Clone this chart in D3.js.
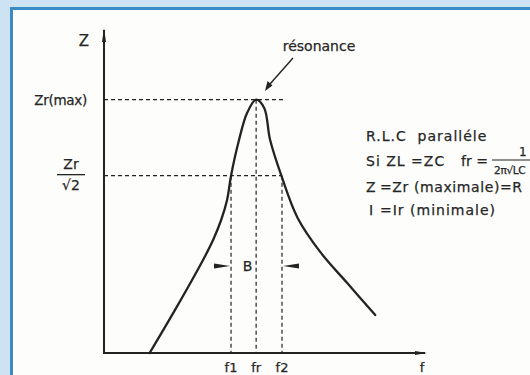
<!DOCTYPE html>
<html>
<head>
<meta charset="utf-8">
<script src="https://cdn.jsdelivr.net/npm/d3@7"></script>
<style>
	body {margin:0; background:#cde2f2;}
	svg {display:block;}
	text {font-family:"DejaVu Sans",sans-serif; fill:#262626; stroke:#262626; stroke-width:0.25;}
</style>
</head>
<body>
<svg id="chart"></svg>
<script>
/*************** data *****************/
// frequency relative to fr, impedance relative to Zr(max)
var curveF = [0.30, 0.467, 0.651, 0.717, 0.770, 0.809, 0.835, 0.888, 0.941, 1.0, 1.053, 1.092, 1.166, 1.273, 1.421, 1.599, 1.783];
var curveZ = [0.0, 0.17, 0.367, 0.446, 0.525, 0.604, 0.70, 0.842, 0.948, 1.0, 0.967, 0.841, 0.70, 0.533, 0.399, 0.276, 0.15];
var freqTicks = ["f1", "fr", "f2"];
var freqValues = [0.835, 1.0, 1.17];
var zLevels = ["Zr(max)", "Zr/√2"];
var zValues = [1.0, 0.70];
var notes = ["R.L.C  paralléle", "Si ZL =ZC", "=Zr (maximale)=R", "=Ir (minimale)"];

/*************** settings *****************/
var width = 530,
	height = 375,
	ink = "#232323";

var svg = d3.select("#chart")
	.attr("width", width)
	.attr("height", height);

// white panel with blue border (left and top only visible)
svg.append("rect")
	.attr("x", 11).attr("y", 8)
	.attr("width", width).attr("height", height)
	.attr("fill", "#fdfdfb");
svg.append("path")
	.attr("d", "M11.5," + height + "V8.5H" + width)
	.attr("fill", "none")
	.attr("stroke", "#3a8bc6")
	.attr("stroke-width", 3);

/*********** scales ****************************************/
var x = d3.scaleLinear().domain([0, 2.11]).range([104, 425]);
var y = d3.scaleLinear().domain([0, 1.275]).range([353, 30]);

/*********** dashed guides *********************************/
var guides = svg.append("g")
	.attr("stroke", ink)
	.attr("stroke-width", 1.2)
	.attr("stroke-dasharray", "4,3");

// horizontal guides
guides.append("line")
	.attr("x1", x(0)).attr("x2", x(1.19))
	.attr("y1", y(zValues[0])).attr("y2", y(zValues[0]));
guides.append("line")
	.attr("x1", x(0)).attr("x2", x(freqValues[2]))
	.attr("y1", y(zValues[1])).attr("y2", y(zValues[1]));

// vertical guides
freqValues.forEach(function(f, i) {
	guides.append("line")
		.attr("x1", x(f)).attr("x2", x(f))
		.attr("y1", i == 1 ? y(zValues[0]) : y(zValues[1]))
		.attr("y2", y(0));
});

/*********** axes ******************************************/
var axes = svg.append("g").attr("stroke", ink).attr("stroke-width", 2);
axes.append("line")
	.attr("x1", x(0)).attr("x2", x(0))
	.attr("y1", y(1.275)).attr("y2", y(0) + 1);
axes.append("line")
	.attr("x1", x(0) - 1).attr("x2", x(2.11))
	.attr("y1", y(0)).attr("y2", y(0));

// arrow tips
svg.append("path")
	.attr("d", "M" + x(0) + "," + (y(1.275) - 2) + "l-2,14h4z")
	.attr("fill", ink);
svg.append("path")
	.attr("d", "M" + (x(2.11) + 2) + "," + y(0) + "l-12,-2v4z")
	.attr("fill", ink);

/*********** resonance curve *******************************/
var line = d3.line()
	.x(function(d) { return x(d.f); })
	.y(function(d) { return y(d.z); })
	.curve(d3.curveCatmullRom.alpha(0.5));

var points = curveF.map(function(f, i) { return {f: f, z: curveZ[i]}; });

svg.append("path")
	.datum(points)
	.attr("d", line)
	.attr("fill", "none")
	.attr("stroke", ink)
	.attr("stroke-width", 2.3)
	.attr("stroke-linecap", "round");

/*********** bandwidth markers *****************************/
var yB = 266;
svg.append("path")
	.attr("d", "M" + (x(freqValues[0]) - 17) + "," + (yB - 2.5) + "v5L" + (x(freqValues[0]) - 1) + "," + yB + "z")
	.attr("fill", ink);
svg.append("path")
	.attr("d", "M" + (x(freqValues[2]) + 17) + "," + (yB - 2.5) + "v5L" + (x(freqValues[2]) + 1) + "," + yB + "z")
	.attr("fill", ink);
svg.append("text")
	.attr("x", (x(freqValues[0]) + x(freqValues[1])) / 2 + 4)
	.attr("y", yB + 5)
	.attr("text-anchor", "middle")
	.attr("font-size", 14)
	.text("B");

/*********** labels ****************************************/
// frequency labels under the axis
svg.selectAll("text.ftick")
	.data(freqTicks)
	.enter().append("text")
	.attr("class", "ftick")
	.attr("x", function(d, i) { return x(freqValues[i]); })
	.attr("y", 372)
	.attr("text-anchor", "middle")
	.attr("font-size", 13)
	.text(function(d) { return d; });
svg.append("text")
	.attr("x", x(2.11) - 3).attr("y", 372)
	.attr("text-anchor", "middle")
	.attr("font-size", 13)
	.text("f");

// Z axis labels
svg.append("text")
	.attr("x", 84).attr("y", 46)
	.attr("text-anchor", "middle")
	.attr("font-size", 15)
	.text("Z");
svg.append("text")
	.attr("x", 87).attr("y", y(zValues[0]) + 5)
	.attr("text-anchor", "end")
	.attr("font-size", 13.5)
	.attr("letter-spacing", -0.3)
	.text(zLevels[0]);

// Zr over √2
var frac = svg.append("g").attr("transform", "translate(71," + y(zValues[1]) + ")");
frac.append("text").attr("y", -7).attr("text-anchor", "middle").attr("font-size", 14).text("Zr");
frac.append("line").attr("x1", -14).attr("x2", 14).attr("y1", -1).attr("y2", -1)
	.attr("stroke", ink).attr("stroke-width", 1.3);
frac.append("text").attr("y", 14).attr("text-anchor", "middle").attr("font-size", 14).text("√2");

// résonance annotation
svg.append("text")
	.attr("x", 319).attr("y", 51)
	.attr("text-anchor", "middle")
	.attr("font-size", 14)
	.text("résonance");
svg.append("line")
	.attr("x1", 293).attr("y1", 58)
	.attr("x2", 270).attr("y2", 84)
	.attr("stroke", ink).attr("stroke-width", 1.4);
svg.append("path")
	.attr("d", "M265,91l2.5,-10l5,4.5z")
	.attr("fill", ink);

// notes on the right
var note = svg.append("g").attr("font-size", 14).attr("letter-spacing", 1);
note.append("text").attr("x", 366).attr("y", 141).attr("xml:space", "preserve").text(notes[0]);
note.append("text").attr("x", 366).attr("y", 166).text(notes[1]);
note.append("text").attr("x", 461).attr("y", 166).attr("letter-spacing", 0).text("fr =");
note.append("text").attr("x", 519).attr("y", 156).attr("font-size", 12).attr("letter-spacing", 0).text("1");
note.append("line").attr("x1", 492).attr("x2", 535).attr("y1", 160).attr("y2", 160)
	.attr("stroke", ink).attr("stroke-width", 1.2);
note.append("text").attr("x", 494).attr("y", 174).attr("font-size", 10.5).attr("letter-spacing", -0.3).text("2π√LC");
note.append("text").attr("x", 366).attr("y", 192).text("Z");
note.append("text").attr("x", 380).attr("y", 192).attr("letter-spacing", 0.6).text(notes[2]);
note.append("text").attr("x", 369).attr("y", 215).text("I");
note.append("text").attr("x", 380).attr("y", 215).text(notes[3]);
</script>
</body>
</html>
